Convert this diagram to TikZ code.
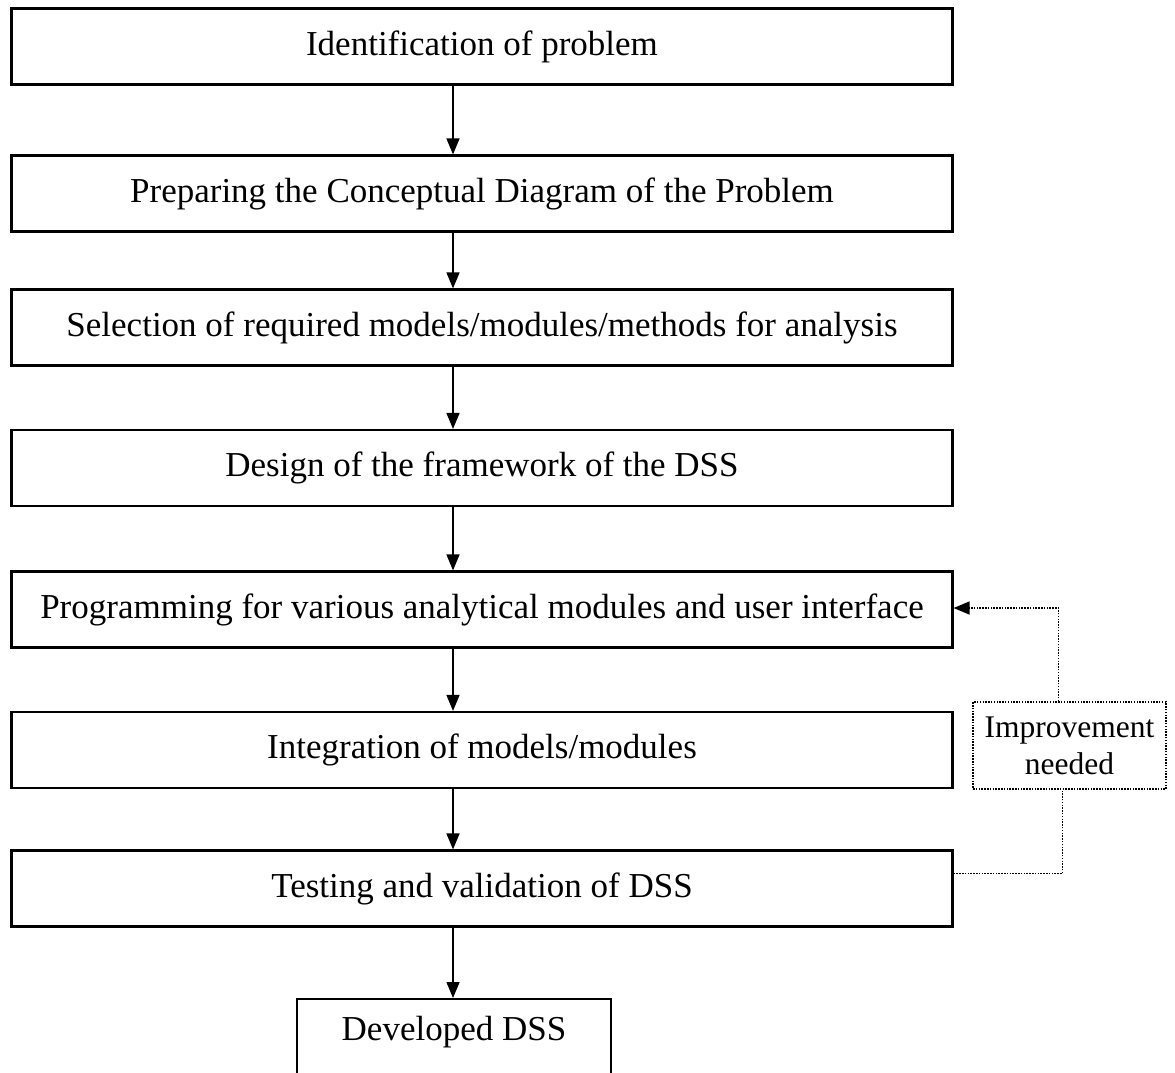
\documentclass[tikz,border=0pt]{standalone}
\usepackage{fontspec}
\setmainfont{Liberation Serif}
\usetikzlibrary{arrows.meta}
\begin{document}
\begin{tikzpicture}[x=1pt,y=-1pt,
  stage/.style={draw, line width=2.2pt, minimum width=941pt, minimum height=76pt,
    inner sep=0pt, font=\fontsize{35}{40}\selectfont},
  tip/.style={-{Triangle[length=16pt,width=13pt]}},
  flow/.style={line width=1.5pt, tip},
  loopline/.style={line width=1.6pt, dash pattern=on 1.5pt off 1.3pt},
  note/.style={draw, loopline, minimum width=193pt, minimum height=87pt,
    inner sep=0pt, align=center, font=\fontsize{31.5}{37}\selectfont},
]
\useasboundingbox (0,0) rectangle (1175,1072);

% main chain of stages
\node[stage] (b1) at (482,46.5)  {Identification of problem};
\node[stage] (b2) at (482,193.5) {Preparing the Conceptual Diagram of the Problem};
\node[stage] (b3) at (482,327.5) {Selection of required models/modules/methods for analysis};
\node[stage] (b4) at (482,468)   {Design of the framework of the DSS};
\node[stage] (b5) at (482,609.5) {Programming for various analytical modules and user interface};
\node[stage] (b6) at (482,750)   {Integration of models/modules};
\node[stage] (b7) at (482,888.5) {Testing and validation of DSS};

% final box, running off the lower edge
\node[draw, line width=2.2pt, minimum width=314pt, minimum height=100pt, inner sep=0pt,
      anchor=north] (b8) at (454,998) {};
\node[font=\fontsize{35}{40}\selectfont] (b8t) at (454,1032) {Developed DSS};

% vertical arrows
\coordinate (ax) at (453,0);
\draw[flow] (b1.south -| ax) -- (b2.north -| ax);
\draw[flow] (b2.south -| ax) -- (b3.north -| ax);
\draw[flow] (b3.south -| ax) -- (b4.north -| ax);
\draw[flow] (b4.south -| ax) -- (b5.north -| ax);
\draw[flow] (b5.south -| ax) -- (b6.north -| ax);
\draw[flow] (b6.south -| ax) -- (b7.north -| ax);
\draw[flow] (b7.south -| ax) -- (b8.north -| ax);

% feedback loop
\node[note] (imp) at (1069.5,745.5) {Improvement\\needed};
\draw[loopline] ([yshift=15pt]b7.east) -| ([xshift=-7pt]imp.south);
\draw[loopline, tip] ([xshift=-11pt]imp.north) |- ([yshift=1.5pt]b5.east);
\end{tikzpicture}
\end{document}
